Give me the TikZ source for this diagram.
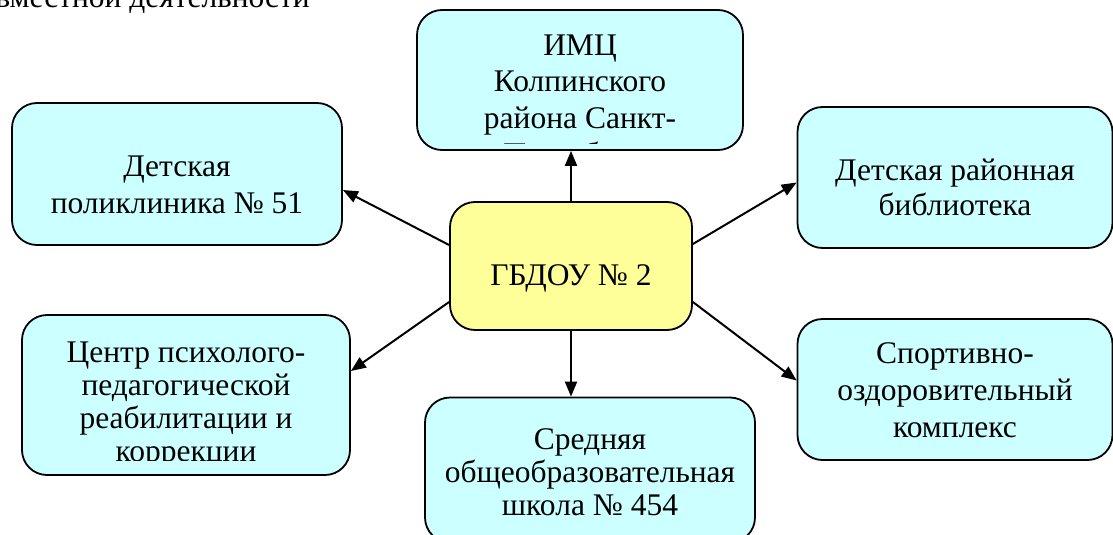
\documentclass[tikz,border=0pt]{standalone}
\usepackage{fontspec}
\setmainfont{Liberation Serif}
\usetikzlibrary{arrows.meta}

\definecolor{partnercyan}{HTML}{CCFFFF}
\definecolor{gbdouyellow}{HTML}{FFFF99}

\tikzset{
  partner/.style={draw=black, line width=1.8pt, rounded corners=25pt, fill=partnercyan, inner sep=0pt},
  words/.style={align=center, inner sep=0pt, font=\fontsize{31.5}{#1}\selectfont},
  words/.default=37,
  link/.style={line width=2pt, -{Triangle[length=15pt,width=12pt]}}
}

\begin{document}
\begin{tikzpicture}[x=1pt, y=-1pt]
\path[use as bounding box, clip] (0,0) rectangle (1113,535);

\node[words, anchor=base east] (caption) at (310,8) {совместной деятельности};

% the kindergarten in the middle
\node[partner, fill=gbdouyellow, minimum width=242pt, minimum height=128pt,
  path picture={\node[words, anchor=base] at ([yshift=-83pt]path picture bounding box.north) {ГБДОУ № 2};}] (gbdou) at (571,266) {};

% partners (text placed by its last baseline)
\node[partner, minimum width=326pt, minimum height=140pt,
  path picture={\clip ([yshift=6.5pt]path picture bounding box.south west) rectangle (path picture bounding box.north east);
    \node[words=36.5, anchor=base] at ([yshift=-154.5pt]path picture bounding box.north) {ИМЦ\\Колпинского\\района Санкт-\\Петербурга};}] (imc) at (580,80) {};

\node[partner, minimum width=330pt, minimum height=142pt,
  path picture={\node[words, anchor=base] at ([yshift=-110pt]path picture bounding box.north) {Детская\\поликлиника № 51};}] (clinic) at (177,174) {};

\node[partner, minimum width=315pt, minimum height=141pt,
  path picture={\node[words=35, anchor=base] at ([yshift=-108pt]path picture bounding box.north) {Детская районная\\библиотека};}] (library) at (955,177.5) {};

\node[partner, minimum width=328pt, minimum height=160pt,
  path picture={\clip ([yshift=15pt]path picture bounding box.south west) rectangle (path picture bounding box.north east);
    \node[words=33, anchor=base] at ([yshift=-146pt]path picture bounding box.north) {Центр психолого-\\педагогической\\реабилитации и\\коррекции};}] (psych) at (186,395) {};

\node[partner, minimum width=330pt, minimum height=145pt,
  path picture={\node[words=33, anchor=base] at ([yshift=-118pt]path picture bounding box.north) {Средняя\\общеобразовательная\\школа № 454};}] (school) at (590,470) {};

\node[partner, minimum width=315pt, minimum height=141pt,
  path picture={\node[words, anchor=base] at ([yshift=-118pt]path picture bounding box.north) {Спортивно-\\оздоровительный\\комплекс};}] (sport) at (955,389.5) {};

% arrows
\draw[link] (gbdou.north) -- (gbdou.north |- imc.south);
\draw[link] (gbdou.south) -- (gbdou.south |- school.north);
\draw[link] ([yshift=21pt]gbdou.west) -- ([yshift=-16pt]clinic.east);
\draw[link] ([yshift=-36pt]gbdou.west) -- ([yshift=24pt]psych.east);
\draw[link] ([yshift=22pt]gbdou.east) -- ([yshift=-5pt]library.west);
\draw[link] ([yshift=-36pt]gbdou.east) -- ([yshift=9pt]sport.west);

\end{tikzpicture}
\end{document}
